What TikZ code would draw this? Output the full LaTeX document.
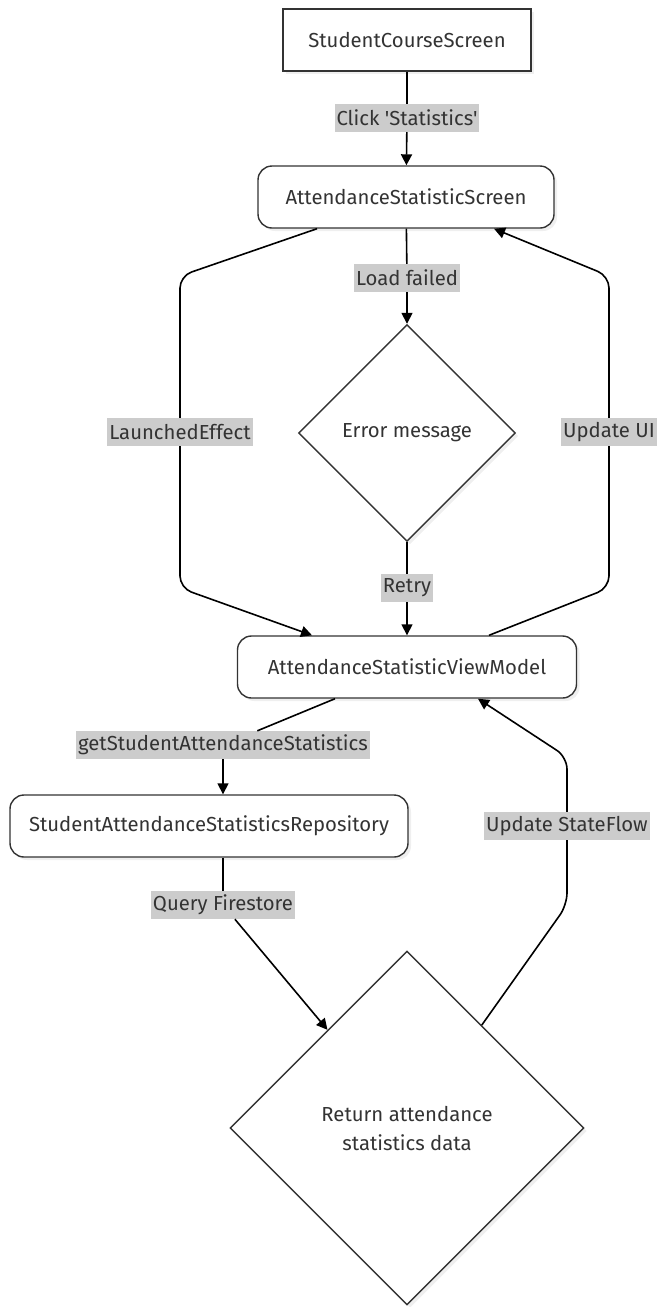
\documentclass[tikz,border=0pt]{standalone}
\usepackage{fontspec}
\setmainfont{Fira Sans}[Ligatures=TeXOff]
\usetikzlibrary{arrows.meta,shapes.geometric,shadows}
\definecolor{ink}{HTML}{333333}
\definecolor{lblbg}{HTML}{CCCCCC}

\begin{document}
\begin{tikzpicture}[x=1pt, y=-1pt,
    font=\fontsize{20.3}{29}\selectfont,
    box/.style={draw=ink, line width=1.4pt, fill=white, text=ink,
          minimum width=#1, minimum height=62pt, inner sep=0pt,
          drop shadow={opacity=0.12, shadow xshift=3pt, shadow yshift=-3pt}},
    rbox/.style={box=#1, rounded corners=14pt},
    decide/.style={diamond, aspect=1, draw=ink, line width=1.4pt, fill=white,
          text=ink, align=center, minimum size=#1, inner sep=0pt,
          drop shadow={opacity=0.12, shadow xshift=3pt, shadow yshift=-3pt}},
    lbl/.style={fill=lblbg, text=ink, inner sep=2pt, minimum height=28pt},
    flow/.style={line width=1.6pt, rounded corners=12pt},
    go/.style={flow, -{Triangle[length=11pt,width=11pt]}}]
    \fill[white] (0,0) rectangle (659,1307);

    % screens and steps
    \node[box=248pt] (course) at (407,40) {StudentCourseScreen};
    \node[rbox=296pt] (screen) at (406,197) {AttendanceStatisticScreen};
    \node[decide=217pt] (err) at (407,433) {Error message};
    \node[rbox=339pt] (vm) at (407,667) {AttendanceStatisticViewModel};
    \node[rbox=398pt] (repo) at (209,826) {StudentAttendanceStatisticsRepository};
    \node[decide=354pt] (ret) at (407,1128) {Return attendance\\statistics data};

    % edge labels
    \node[lbl] (click) at (407,118) {Click 'Statistics'};
    \node[lbl] (fail) at (407,278) {Load failed};
    \node[lbl] (retry) at (407,588) {Retry};
    \node[lbl] (launch) at (180,432) {LaunchedEffect};
    \node[lbl] (upui) at (609,432) {Update UI};
    \node[lbl] (fetch) at (223,745) {getStudentAttendanceStatistics};
    \node[lbl] (query) at (223,905) {Query Firestore};
    \node[lbl] (upflow) at (567,826) {Update StateFlow};

    \draw[flow] (course) -- (click);
    \draw[go] (click) -- (screen);
    \draw[flow] (screen) -- (fail);
    \draw[go] (fail) -- (err);
    \draw[flow] (err) -- (retry);
    \draw[go] (retry) -- (vm);
    \draw[flow] ([xshift=-89pt]screen.south) -- (180,276) -- (launch);
    \draw[go] (launch) -- (180,588) -- ([xshift=-95pt]vm.north);
    \draw[flow] ([xshift=82pt]vm.north) -- (609,588) -- (upui);
    \draw[go] (upui) -- (609,276) -- ([xshift=88pt]screen.south);
    \draw[flow] ([xshift=-72pt]vm.south) -- (fetch);
    \draw[go] (fetch) -- ([xshift=14pt]repo.north);
    \draw[flow] ([xshift=14pt]repo.south) -- (query);
    \draw[go] (query) -- (ret.129);
    \draw[flow] (ret.54) -- (567,905) -- (upflow);
    \draw[go] (upflow) -- (567,757) -- ([xshift=71pt]vm.south);
\end{tikzpicture}
\end{document}
